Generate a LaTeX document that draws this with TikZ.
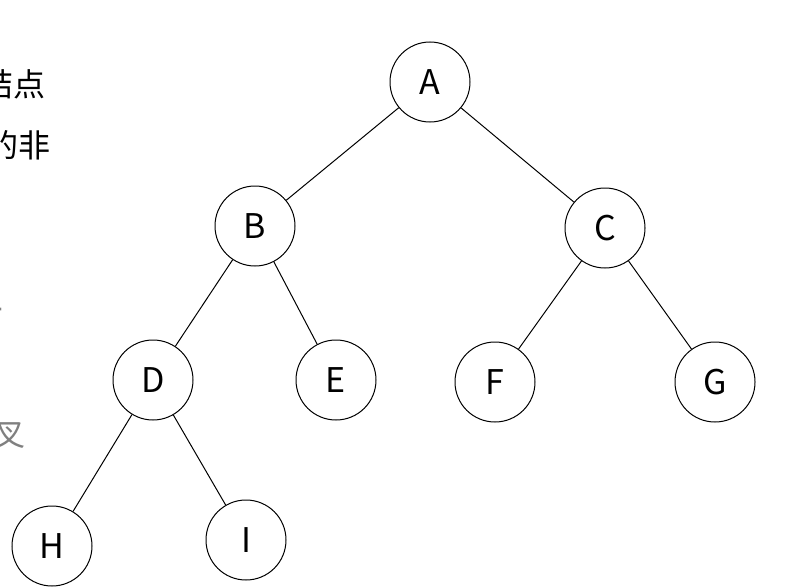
\documentclass[tikz,border=0pt]{standalone}
\usepackage{fontspec}
\newfontfamily\cjk{Noto Sans CJK SC Light}[Scale=1]
\setsansfont{Noto Sans CJK SC}
\begin{document}
\begin{tikzpicture}[x=1pt,y=-1pt,
  tn/.style={circle,draw,line width=1pt,minimum size=80pt,inner sep=0pt,font=\fontsize{34}{36}\selectfont\sffamily},
  side/.style={anchor=east,inner sep=0pt,font=\fontsize{32}{34}\selectfont\sffamily},
  edge/.style={line width=1pt}]
\useasboundingbox (0,0) rectangle (791,586);
\fill[white] (0,0) rectangle (791,586);
\node[side] (t1) at (46,84) {结点};
\node[side] (t2) at (51,145) {的非};
\node[side,text=gray] (t3) at (4,300) {二};
\node[side,text=gray] (t4) at (26,436) {二叉};
\node[tn] (A) at (430,82) {A};
\node[tn] (B) at (255,226) {B};
\node[tn] (C) at (605,228) {C};
\node[tn] (D) at (153,380) {D};
\node[tn] (E) at (336,380) {E};
\node[tn] (F) at (495,382) {F};
\node[tn] (G) at (715,382) {G};
\node[tn] (H) at (52,546) {H};
\node[tn] (I) at (246,540) {I};
\draw[edge] (A)--(B); \draw[edge] (A)--(C);
\draw[edge] (B)--(D); \draw[edge] (B)--(E);
\draw[edge] (C)--(F); \draw[edge] (C)--(G);
\draw[edge] (D)--(H); \draw[edge] (D)--(I);
\end{tikzpicture}
\end{document}
